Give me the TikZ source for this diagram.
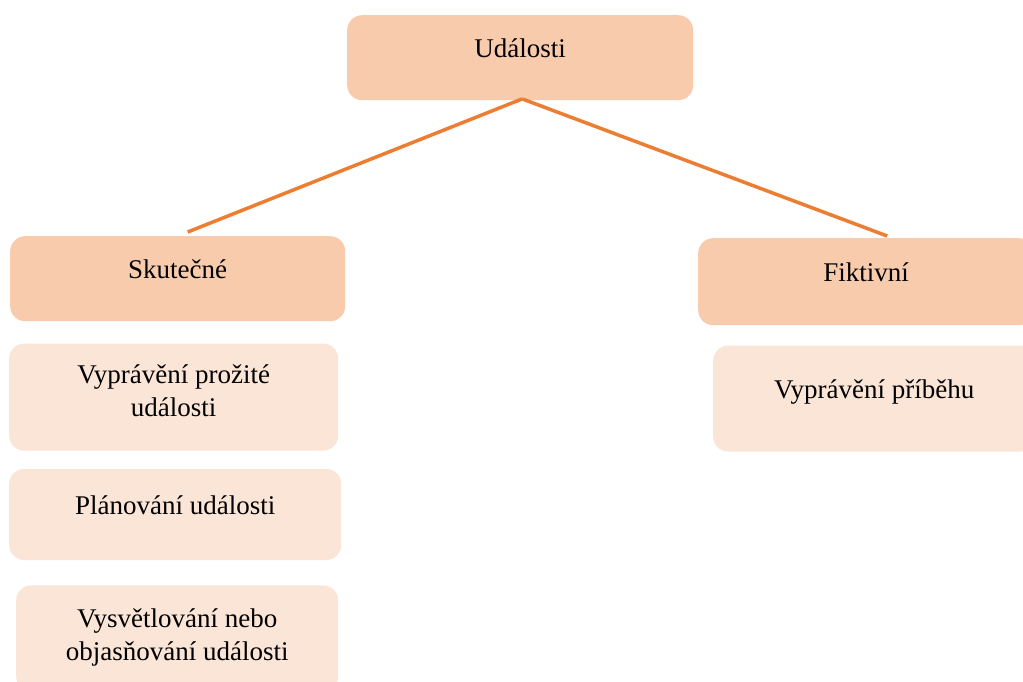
\documentclass[tikz,border=0pt]{standalone}
\usepackage{fontspec}
\setmainfont{Liberation Serif}
\usepackage{tikz}
\usetikzlibrary{positioning}
\definecolor{peach}{HTML}{F8CBAD}
\definecolor{light peach}{HTML}{FBE5D6}
\definecolor{link orange}{HTML}{ED7D31}
\tikzset{
  main box/.style={
    fill=peach,
    rounded corners=15pt,
    minimum width={#1},
    minimum height={85pt},
    font=\fontsize{27}{33}\selectfont,
    text height=20pt,
    text depth=20pt,
    anchor=north west,
  },
  sub box/.style={
    fill=light peach,
    rounded corners=15pt,
    minimum width={#1},
    minimum height={106pt},
    font=\fontsize{27}{33}\selectfont,
    align=center,
  },
  one line/.style={
    text height=20pt,
    text depth=20pt,
  },
  link/.style={
    draw=link orange,
    line width=3.5pt,
  }
}
\begin{document}
\begin{tikzpicture}[x=1pt, y=-1pt, node distance=24pt]
    \useasboundingbox (0,0) rectangle (1023,682);

    \node [main box=346pt] (udalosti) at (347,15) {Události};
    \node [main box=335pt] (skutecne) at (10,236) {Skutečné};
    \node [main box=336pt, minimum height=87pt] (fiktivni) at (698,238) {Fiktivní};

    \node [sub box=329pt, minimum height=107pt, text depth=12pt, below right=22pt and -1pt of skutecne.south west] (prozite) {Vyprávění prožité\\ události};
    \node [sub box=332pt, minimum height=91pt, one line, below right=18pt and 0pt of prozite.south west] (planovani) {Plánování události};
    \node [sub box=322pt, text depth=8pt, below right=25pt and 7pt of planovani.south west] (vysvetlovani) {Vysvětlování nebo\\ objasňování události};
    \node [sub box=322pt, one line, below right=20pt and 15pt of fiktivni.south west] (pribeh) {Vyprávění příběhu};

    \draw [link] ([xshift=2pt, yshift=1.5pt]udalosti.south) -- ([xshift=10pt, yshift=4pt]skutecne.north);
    \draw [link] ([xshift=2pt, yshift=1.5pt]udalosti.south) -- ([xshift=21pt, yshift=2pt]fiktivni.north);
\end{tikzpicture}
\end{document}
